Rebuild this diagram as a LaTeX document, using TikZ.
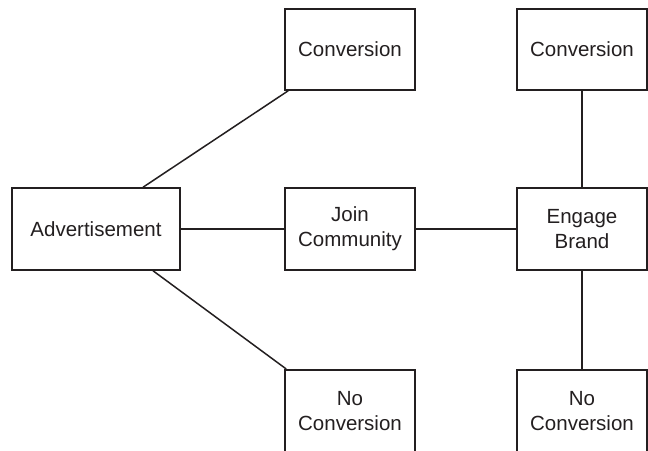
\documentclass[tikz,border=0pt]{standalone}
\usepackage{fontspec}
\setmainfont{Liberation Sans}
\definecolor{ink}{HTML}{231F20}
\begin{document}
\begin{tikzpicture}[x=1pt,y=-1pt,
  box/.style={draw=ink, line width=1.5pt, fill=white, text=ink, inner sep=0pt,
    minimum width=130pt, minimum height=82pt, align=center,
    font=\fontsize{20.5}{25}\selectfont},
  lowbox/.style={box, minimum height=90pt, text depth=8pt},
  link/.style={draw=ink, line width=1.5pt}]
\useasboundingbox (0,0) rectangle (648,450);
\clip (0,0) rectangle (648,450);

\node[box, minimum width=168pt] (adv) at (96,229) {Advertisement};
\node[box, minimum height=81pt] (conv1) at (350,49.5) {Conversion};
\node[box] (join) at (350,229) {Join\\Community};
\node[box, minimum height=81pt] (conv2) at (582,49.5) {Conversion};
\node[box] (engage) at (582,229) {Engage\\Brand};
% the lower row runs past the bottom edge of the picture
\node[lowbox, anchor=north] (noconv1) at (350,369) {No\\Conversion};
\node[lowbox, anchor=north] (noconv2) at (582,369) {No\\Conversion};

\draw[link] ([xshift=47pt]adv.north) -- ([xshift=4pt]conv1.south west);
\draw[link] (adv.east) -- (join.west);
\draw[link] ([xshift=57pt]adv.south) -- ([xshift=2pt]noconv1.north west);
\draw[link] (join.east) -- (engage.west);
\draw[link] (engage.north) -- (conv2.south);
\draw[link] (engage.south) -- (noconv2.north);
\end{tikzpicture}
\end{document}
